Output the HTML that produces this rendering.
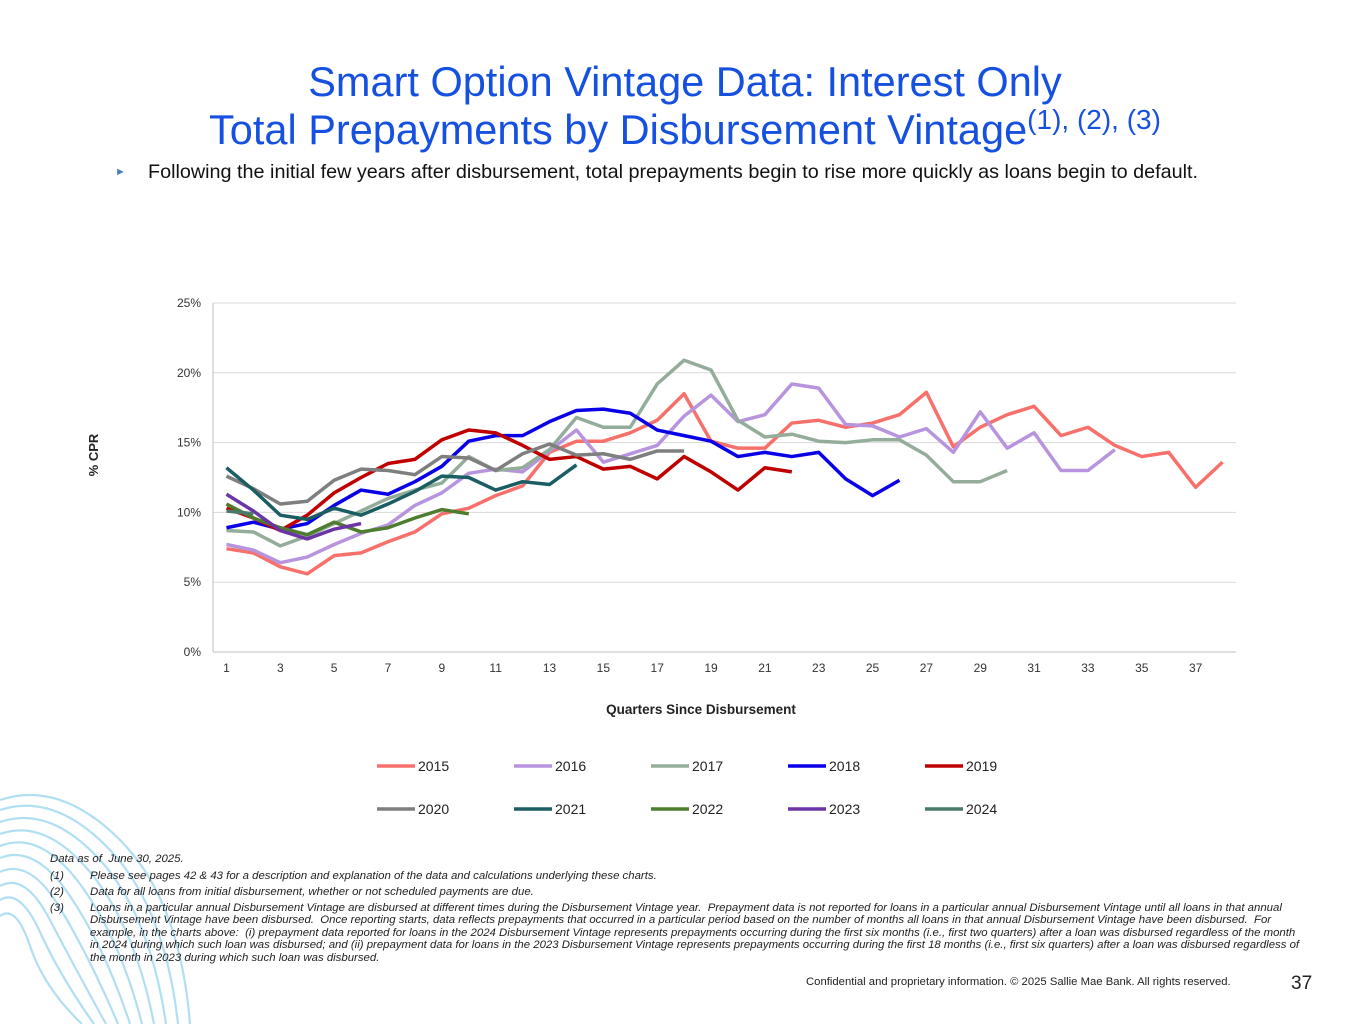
<!DOCTYPE html>
<html><head><meta charset="utf-8">
<style>
html,body{margin:0;padding:0;background:#fff;}
body{width:1365px;height:1024px;position:relative;overflow:hidden;font-family:"Liberation Sans",Arial,sans-serif;}
.title{position:absolute;left:0;width:1370px;text-align:center;color:#1550E0;font-size:41.5px;line-height:46px;}
.fn{position:absolute;font-family:"Liberation Sans Narrow","Liberation Sans",sans-serif;font-style:italic;font-size:11.4px;color:#222;line-height:12.4px;}
.fn .n{position:absolute;left:0;}
.fn .t{position:absolute;left:40px;white-space:nowrap;}
</style></head><body>
<svg style="position:absolute;left:0;top:780px" width="200" height="244">
<g fill="none" stroke="#9ED8F0" stroke-width="2.2" opacity="0.8">
<path d="M0 20 Q60 0 120 60 T190 244"/><path d="M0 30 Q55 12 110 70 T178 244"/><path d="M0 42 Q50 25 100 80 T166 244"/><path d="M0 54 Q45 38 90 92 T154 244"/><path d="M0 66 Q40 50 80 104 T142 244"/><path d="M0 78 Q35 64 70 116 T130 244"/><path d="M0 92 Q30 78 60 128 T118 244"/><path d="M0 106 Q25 92 50 140 T106 244"/><path d="M0 120 Q20 108 40 152 T94 244"/><path d="M0 136 Q16 124 30 166 T82 244"/>
</g></svg>
<div class="title" style="top:59px">Smart Option Vintage Data: Interest Only</div>
<div class="title" style="top:97px">Total Prepayments by Disbursement Vintage<span style="font-size:28px;vertical-align:15px">(1), (2), (3)</span></div>
<div style="position:absolute;left:115px;top:161px;font-size:19.8px;color:#111;white-space:nowrap"><span style="position:absolute;left:0;top:5px;color:#4A7EC0;font-size:11px">&#9658;</span><span style="position:absolute;left:33px">Following the initial few years after disbursement, total prepayments begin to rise more quickly as loans begin to default.</span></div>

<svg id="chart" style="position:absolute;left:0;top:0" width="1365" height="850"></svg>

<div class="fn" style="left:50px;top:853px;width:1290px;height:120px">
<div style="position:absolute;left:0;top:0">Data as of &nbsp;June 30, 2025.</div>
<div class="n" style="top:17px">(1)</div><div class="t" style="top:17px">Please see pages 42 &amp; 43 for a description and explanation of the data and calculations underlying these charts.</div>
<div class="n" style="top:33px">(2)</div><div class="t" style="top:33px">Data for all loans from initial disbursement, whether or not scheduled payments are due.</div>
<div class="n" style="top:49px">(3)</div>
<div class="t" style="top:49px">Loans in a particular annual Disbursement Vintage are disbursed at different times during the Disbursement Vintage year. &nbsp;Prepayment data is not reported for loans in a particular annual Disbursement Vintage until all loans in that annual<br>Disbursement Vintage have been disbursed. &nbsp;Once reporting starts, data reflects prepayments that occurred in a particular period based on the number of months all loans in that annual Disbursement Vintage have been disbursed. &nbsp;For<br>example, in the charts above: &nbsp;(i) prepayment data reported for loans in the 2024 Disbursement Vintage represents prepayments occurring during the first six months (i.e., first two quarters) after a loan was disbursed regardless of the month<br>in 2024 during which such loan was disbursed; and (ii) prepayment data for loans in the 2023 Disbursement Vintage represents prepayments occurring during the first 18 months (i.e., first six quarters) after a loan was disbursed regardless of<br>the month in 2023 during which such loan was disbursed.</div>
</div>
<div style="position:absolute;left:806px;top:976px;font-size:11.3px;color:#222">Confidential and proprietary information. © 2025 Sallie Mae Bank. All rights reserved.</div>
<div style="position:absolute;left:1291px;top:973px;font-size:19px;color:#222">37</div>

<script>
const seriesNames = ["2015","2016","2017","2018","2019","2020","2021","2022","2023","2024"];
const s2015 = [7.4,7.1,6.1,5.6,6.9,7.1,7.9,8.6,9.9,10.3,11.2,11.9,14.3,15.1,15.1,15.7,16.6,18.5,15.1,14.6,14.6,16.4,16.6,16.1,16.4,17.0,18.6,14.7,16.1,17.0,17.6,15.5,16.1,14.8,14.0,14.3,11.8,13.6];
const s2016 = [7.7,7.3,6.4,6.8,7.7,8.5,9.1,10.5,11.4,12.8,13.1,12.9,14.4,15.9,13.6,14.2,14.8,16.9,18.4,16.5,17.0,19.2,18.9,16.3,16.2,15.4,16.0,14.3,17.2,14.6,15.7,13.0,13.0,14.5];
const s2017 = [8.7,8.6,7.6,8.3,9.2,10.1,11.0,11.6,12.1,14.0,13.0,13.2,14.5,16.8,16.1,16.1,19.2,20.9,20.2,16.6,15.4,15.6,15.1,15.0,15.2,15.2,14.1,12.2,12.2,13.0];
const s2018 = [8.9,9.3,8.8,9.2,10.5,11.6,11.3,12.2,13.3,15.1,15.5,15.5,16.5,17.3,17.4,17.1,15.9,15.5,15.1,14.0,14.3,14.0,14.3,12.4,11.2,12.3];
const s2019 = [10.3,9.6,8.7,9.8,11.4,12.5,13.5,13.8,15.2,15.9,15.7,14.8,13.8,14.0,13.1,13.3,12.4,14.0,12.9,11.6,13.2,12.9];
const s2020 = [12.6,11.7,10.6,10.8,12.3,13.1,13.0,12.7,14.0,13.9,13.0,14.2,14.9,14.1,14.2,13.8,14.4,14.4];
const s2021 = [13.2,11.6,9.8,9.5,10.3,9.8,10.6,11.5,12.6,12.5,11.6,12.2,12.0,13.4];
const s2022 = [10.6,9.6,8.9,8.4,9.3,8.6,8.9,9.6,10.2,9.9];
const s2023 = [11.3,10.1,8.7,8.1,8.8,9.2];
const s2024 = [10.1,9.9];
const yTicks = [0,5,10,15,20,25];
const xTickLabels = [1,3,5,7,9,11,13,15,17,19,21,23,25,27,29,31,33,35,37];
const colors = ["#F7706B","#B794DD","#94AD9A","#0A00E8","#C00000","#7F7F7F","#1A5E63","#4E7D2F","#6B35A6","#4A7A6B"];
const allSeries = [s2015,s2016,s2017,s2018,s2019,s2020,s2021,s2022,s2023,s2024];
const NS="http://www.w3.org/2000/svg";
const svg=document.getElementById('chart');
const L=213,R=1236,T=303,B=652,N=38;
const xs=q=>L+(q-0.5)*(R-L)/N;
const ys=v=>B-v/25*(B-T);
function mk(t,a){const e=document.createElementNS(NS,t);for(const k in a)e.setAttribute(k,a[k]);svg.appendChild(e);return e;}
yTicks.forEach(v=>{
  const g=mk('line',{x1:L,x2:R,y1:ys(v),y2:ys(v),stroke:v===0?'#BFBFBF':'#D9D9D9','stroke-width':1});
  
  
  const t=mk('text',{x:L-12,y:ys(v)+4,'text-anchor':'end','font-size':12,fill:'#333'});
  t.textContent=v+'%';
  
  
});
const ax=mk('line',{x1:L,x2:L,y1:T,y2:B,stroke:'#BFBFBF'});


xTickLabels.forEach(q=>{
  const t=mk('text',{x:xs(q),y:B+20,'text-anchor':'middle','font-size':12,fill:'#333'});
  t.textContent=q;
  
  
});
const yt=mk('text',{x:98,y:455,'text-anchor':'middle','font-size':13,'font-weight':'bold',fill:'#222',transform:'rotate(-90 98 455)'});
yt.textContent='% CPR';


const xt=mk('text',{x:701,y:714,'text-anchor':'middle','font-size':13.5,'font-weight':'bold',fill:'#222'});
xt.textContent='Quarters Since Disbursement';


allSeries.forEach((s,i)=>{
  const p=mk('polyline',{points:s.map((v,j)=>xs(j+1)+','+ys(v)).join(' '),fill:'none',stroke:colors[i],'stroke-width':3.5,'stroke-linejoin':'round'});
  
  
});
seriesNames.forEach((n,i)=>{
  const lx=377+(i%5)*137, ly=(i<5?766:809);
  const l=mk('line',{x1:lx,x2:lx+38,y1:ly,y2:ly,stroke:colors[i],'stroke-width':3.5});
  
  
  const t=mk('text',{x:lx+41,y:ly+5,'font-size':14,fill:'#222'});
  t.textContent=n;
  
  
});
</script>
</body></html>
